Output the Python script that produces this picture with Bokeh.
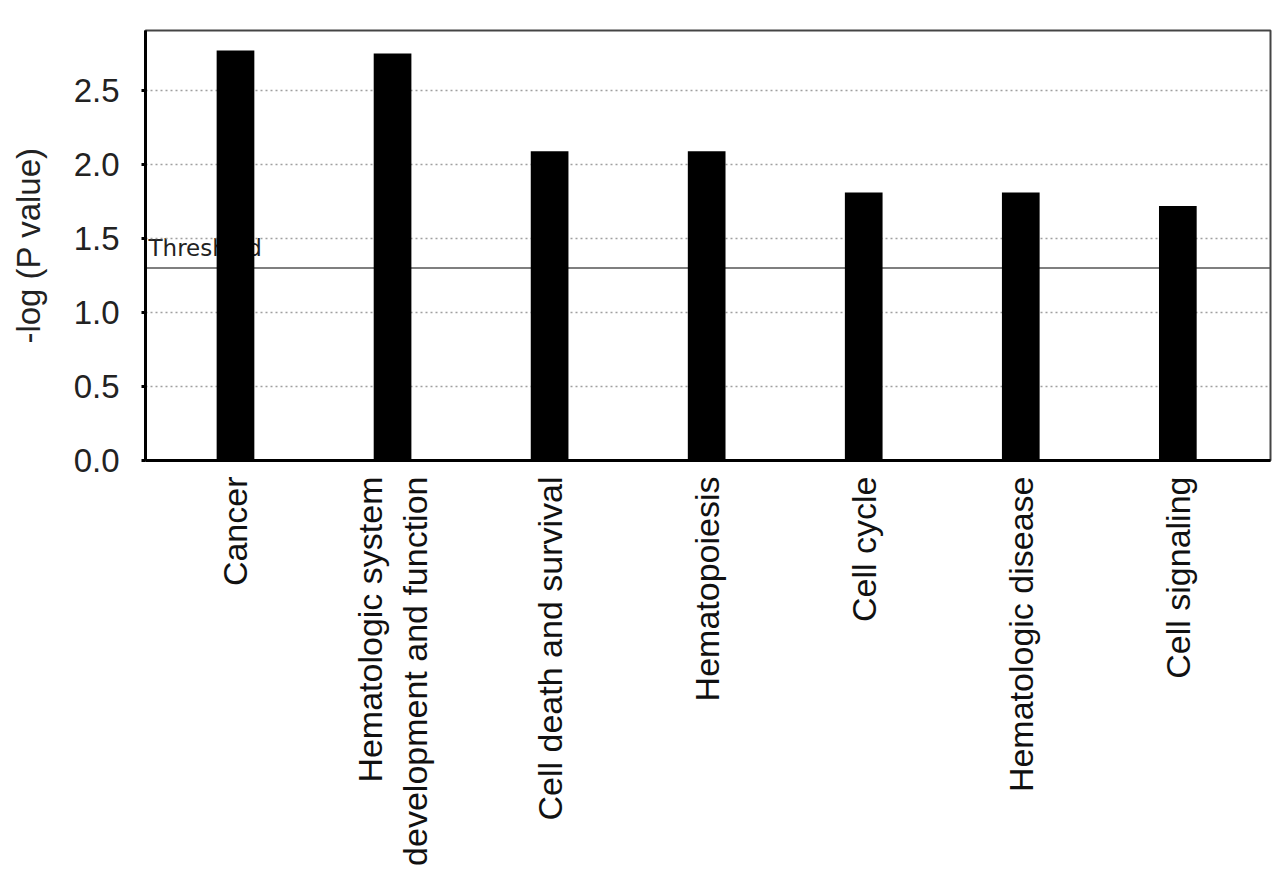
import math
from bokeh.plotting import figure
from bokeh.models import FixedTicker, Range1d, Span
from bokeh.core.properties import value
from bokeh.embed import file_html
from bokeh.resources import INLINE

categories = ["Cancer", "Hematologic system\ndevelopment and function", "Cell death and survival",
              "Hematopoiesis", "Cell cycle", "Hematologic disease", "Cell signaling"]
neg_log_p = [2.77, 2.75, 2.09, 2.09, 1.81, 1.81, 1.72]
threshold = 1.30
y_ticks = [0.0, 0.5, 1.0, 1.5, 2.0, 2.5]

xs = list(range(len(categories)))

p = figure(width=1272, height=888, output_backend="svg", toolbar_location=None,
           x_range=Range1d(-0.573, 6.59), y_range=Range1d(0, 2.905),
           min_border_left=145, min_border_top=30, min_border_right=2, min_border_bottom=428)
p.background_fill_color = "white"
p.outline_line_color = "#444444"
p.outline_line_width = 2

# grid
p.xgrid.visible = False
p.ygrid.grid_line_color = "#a0a0a0"
p.ygrid.grid_line_dash = "2 3"
p.ygrid.grid_line_width = 1.5

# threshold line
thr = Span(location=threshold, dimension="width", line_color="#555555", line_width=1.5, level="underlay")
p.add_layout(thr)
p.text(x=[-0.573], y=[threshold], text=["Threshold"], x_offset=3, y_offset=-7,
       text_baseline="bottom", text_align="left", text_font=value("DejaVu Sans"),
       text_font_size="23px", text_color="#222222", level="underlay")

p.vbar(x=xs, top=neg_log_p, width=0.24, fill_color="black", line_color=None)

# y axis
p.yaxis.ticker = FixedTicker(ticks=y_ticks)
p.yaxis.major_label_overrides = {t: f"{t:.1f}" for t in y_ticks}
p.yaxis.axis_line_color = "black"
p.yaxis.axis_line_width = 3
p.yaxis.major_tick_line_color = "black"
p.yaxis.major_tick_line_width = 3
p.yaxis.major_tick_out = 4
p.yaxis.major_tick_in = 0
p.yaxis.minor_tick_line_color = None
p.yaxis.major_label_text_font = "Liberation Sans"
p.yaxis.major_label_text_font_size = "33px"
p.yaxis.major_label_text_color = "#222222"
p.yaxis.major_label_standoff = 22
p.yaxis.axis_label = "-log (P value)"
p.yaxis.axis_label_text_font = "Liberation Sans"
p.yaxis.axis_label_text_font_style = "normal"
p.yaxis.axis_label_text_font_size = "33px"
p.yaxis.axis_label_text_color = "#222222"
p.yaxis.axis_label_standoff = 24

# x axis
p.xaxis.ticker = FixedTicker(ticks=xs)
p.xaxis.major_label_overrides = {i: c for i, c in zip(xs, categories)}
p.xaxis.major_label_orientation = math.pi / 2
p.xaxis.axis_line_color = "black"
p.xaxis.axis_line_width = 3
p.xaxis.major_tick_line_color = None
p.xaxis.minor_tick_line_color = None
p.xaxis.major_label_text_font = "Liberation Sans"
p.xaxis.major_label_text_font_size = "34px"
p.xaxis.major_label_text_color = "#111111"
p.xaxis.major_label_standoff = 10

open("out.html", "w").write(file_html(p, INLINE))
